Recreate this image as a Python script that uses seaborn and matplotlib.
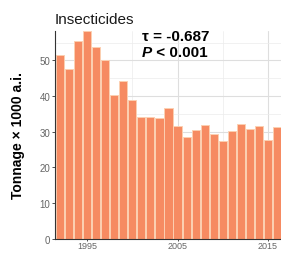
import matplotlib
matplotlib.use("Agg")
import matplotlib.pyplot as plt
import seaborn as sns
from matplotlib.ticker import MultipleLocator

years = list(range(1992, 2017))
tonnage = [51.5, 47.7, 55.4, 58.2, 53.8, 50.0, 40.3, 44.1, 38.8, 34.1, 34.1, 33.8, 36.8,
           31.6, 28.6, 30.4, 31.8, 29.5, 27.4, 30.2, 32.2, 30.7, 31.5, 27.7, 31.3]
title = "Insecticides"
tau_text = "τ = -0.687"
p_text = "P"
p_rest = " < 0.001"

sns.set_style("white")
plt.rcParams["font.family"] = ["Liberation Sans", "DejaVu Sans"]

fig = plt.figure(figsize=(2.81, 2.55), dpi=100)
ax = fig.add_axes([0.196, 0.06, 0.804, 0.815])

sns.barplot(x=years, y=tonnage, native_scale=True, color="#F68B62", saturation=1,
            width=0.9, edgecolor="#FCD0B2", linewidth=0.7, ax=ax, zorder=2)

ax.set_xlim(1991.46, 2016.44)
ax.set_ylim(0, 58.3)
ax.set_xticks([1995, 2005, 2015])
ax.xaxis.set_minor_locator(MultipleLocator(5))
ax.yaxis.set_major_locator(MultipleLocator(10))
ax.yaxis.set_minor_locator(MultipleLocator(5))
ax.grid(True, which="major", color="#DEDEDE", linewidth=0.8, zorder=0)
ax.grid(True, which="minor", color="#ECECEC", linewidth=0.5, zorder=0)
ax.set_axisbelow(True)

for s in ["top", "right"]:
    ax.spines[s].set_visible(False)
for s in ["left", "bottom"]:
    ax.spines[s].set_color("#333333")
    ax.spines[s].set_linewidth(0.8)

ax.tick_params(axis="both", which="major", labelsize=7, labelcolor="#666666",
               length=2.5, width=0.6, color="#333333", pad=1, direction="out")
ax.tick_params(axis="x", which="major", labelsize=6.5, length=1.5, pad=0.5)
ax.tick_params(which="minor", length=0)
ax.tick_params(axis="both", left=True, bottom=True)

ax.set_xlabel("")
ax.set_ylabel("Tonnage × 1000 a.i.", fontsize=10, fontweight="bold", color="black")
ax.yaxis.set_label_coords(-0.135, 0.5)

fig.text(0.196, 0.92, title, fontsize=11, ha="left", va="center", color="#1A1A1A")
fig.text(0.505, 0.839, tau_text, fontsize=11, fontweight="bold", ha="left",
         va="baseline", color="black")
pt = fig.text(0.505, 0.776, p_text, fontsize=11, fontweight="bold", fontstyle="italic",
              ha="left", va="baseline", color="black")
ax.annotate(p_rest, xy=(1, 0), xycoords=pt, fontsize=11, fontweight="bold",
            ha="left", va="bottom", color="black")

fig.savefig("out.png", dpi=100)
